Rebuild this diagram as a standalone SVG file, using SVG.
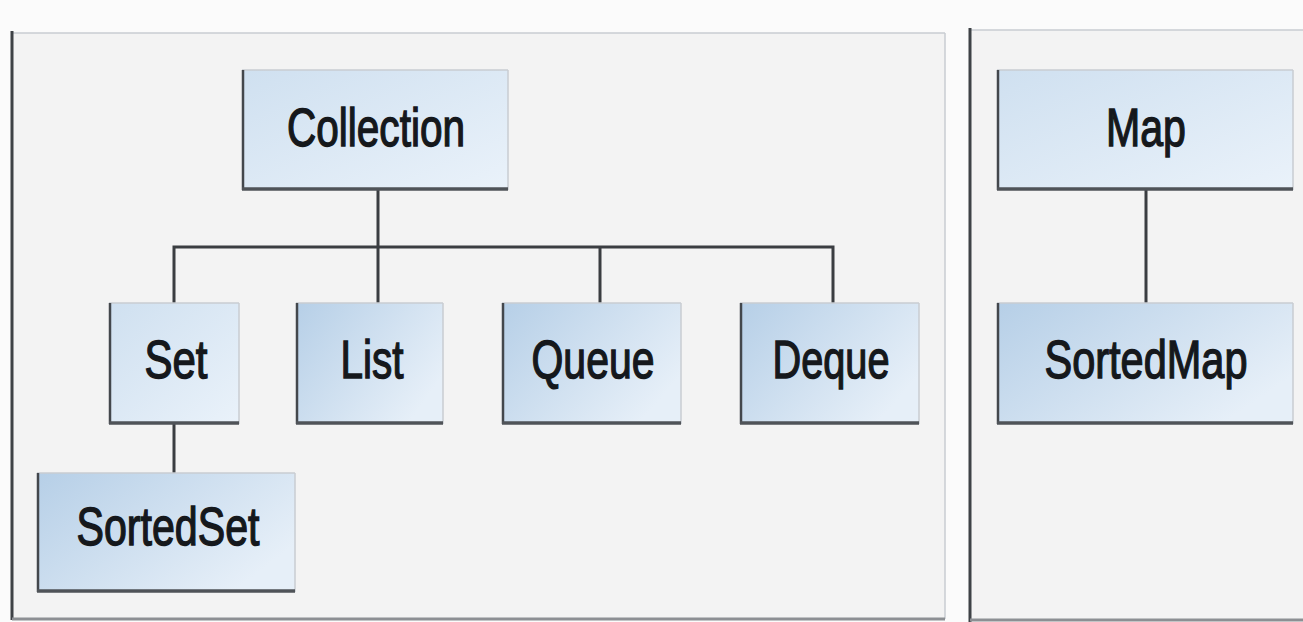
<svg xmlns="http://www.w3.org/2000/svg" width="1303" height="622" viewBox="0 0 1303 622">
<style>
.lbl{font-family:"Liberation Sans",Arial,sans-serif;font-size:53px;fill:#15181c;stroke:#15181c;stroke-width:1.4px;text-anchor:middle}
.edgeL{stroke:#43474c;stroke-width:2.5}
.edgeB{stroke:#4f5358;stroke-width:3.5}
.edgeT{stroke:#c9cdd2;stroke-width:1.5}
.conn{stroke:#3a3d41;stroke-width:3;fill:none}
</style>
<defs>
<linearGradient id="gLight" x1="0" y1="0" x2="1" y2="1">
<stop offset="0" stop-color="#cfe0f0"/>
<stop offset="1" stop-color="#eaf2fa"/>
</linearGradient>
<linearGradient id="gDark" x1="0" y1="0" x2="1" y2="0.6">
<stop offset="0" stop-color="#b6cfe7"/>
<stop offset="1" stop-color="#e6eff8"/>
</linearGradient>
</defs>
<rect x="0" y="0" width="1303" height="622" fill="#fbfbfb"/>
<g id="panel-left">
<rect x="12" y="33" width="933" height="586" fill="#f3f3f3"/>
<line x1="12" y1="33" x2="945" y2="33" class="edgeT"/>
<line x1="945" y1="33" x2="945" y2="619" class="edgeT"/>
<line x1="12" y1="31" x2="12" y2="620" stroke="#3e4246" stroke-width="3"/>
<line x1="12" y1="619" x2="945" y2="619" stroke="#8c8f93" stroke-width="3"/>
</g>
<g id="panel-right">
<rect x="970" y="30" width="340" height="590" fill="#f3f3f3"/>
<line x1="970" y1="30" x2="1303" y2="30" class="edgeT"/>
<line x1="970" y1="28" x2="970" y2="622" stroke="#3e4246" stroke-width="3"/>
<line x1="970" y1="620" x2="1303" y2="620" stroke="#8c8f93" stroke-width="3"/>
</g>
<g id="connectors">
<line class="conn" x1="378" y1="190" x2="378" y2="303"/>
<polyline class="conn" points="174,303 174,247 833,247 833,303"/>
<line class="conn" x1="600" y1="247" x2="600" y2="303"/>
<line class="conn" x1="174" y1="424" x2="174" y2="473"/>
<line class="conn" x1="1146" y1="190" x2="1146" y2="303"/>
</g>
<g id="node-collection">
<rect x="242" y="70" width="266" height="120" fill="url(#gLight)"/>
<line x1="242" y1="70" x2="508" y2="70" class="edgeT"/><line x1="508" y1="70" x2="508" y2="190" class="edgeT"/>
<line x1="243" y1="70" x2="243" y2="190" class="edgeL"/><line x1="242" y1="189" x2="508" y2="189" class="edgeB"/>
<text class="lbl" x="376" y="146" textLength="178" lengthAdjust="spacingAndGlyphs">Collection</text>
</g>
<g id="node-set">
<rect x="109" y="303" width="130" height="121" fill="url(#gLight)"/>
<line x1="109" y1="303" x2="239" y2="303" class="edgeT"/><line x1="239" y1="303" x2="239" y2="424" class="edgeT"/>
<line x1="110" y1="303" x2="110" y2="424" class="edgeL"/><line x1="109" y1="423" x2="239" y2="423" class="edgeB"/>
<text class="lbl" x="176" y="378" textLength="63" lengthAdjust="spacingAndGlyphs">Set</text>
</g>
<g id="node-list">
<rect x="296" y="303" width="147" height="121" fill="url(#gDark)"/>
<line x1="296" y1="303" x2="443" y2="303" class="edgeT"/><line x1="443" y1="303" x2="443" y2="424" class="edgeT"/>
<line x1="297" y1="303" x2="297" y2="424" class="edgeL"/><line x1="296" y1="423" x2="443" y2="423" class="edgeB"/>
<text class="lbl" x="372" y="378" textLength="63" lengthAdjust="spacingAndGlyphs">List</text>
</g>
<g id="node-queue">
<rect x="502" y="303" width="179" height="121" fill="url(#gDark)"/>
<line x1="502" y1="303" x2="681" y2="303" class="edgeT"/><line x1="681" y1="303" x2="681" y2="424" class="edgeT"/>
<line x1="503" y1="303" x2="503" y2="424" class="edgeL"/><line x1="502" y1="423" x2="681" y2="423" class="edgeB"/>
<text class="lbl" x="593" y="378" textLength="123" lengthAdjust="spacingAndGlyphs">Queue</text>
</g>
<g id="node-deque">
<rect x="740" y="303" width="179" height="121" fill="url(#gDark)"/>
<line x1="740" y1="303" x2="919" y2="303" class="edgeT"/><line x1="919" y1="303" x2="919" y2="424" class="edgeT"/>
<line x1="741" y1="303" x2="741" y2="424" class="edgeL"/><line x1="740" y1="423" x2="919" y2="423" class="edgeB"/>
<text class="lbl" x="831" y="378" textLength="117" lengthAdjust="spacingAndGlyphs">Deque</text>
</g>
<g id="node-sortedset">
<rect x="37" y="473" width="258" height="119" fill="url(#gDark)"/>
<line x1="37" y1="473" x2="295" y2="473" class="edgeT"/><line x1="295" y1="473" x2="295" y2="592" class="edgeT"/>
<line x1="38" y1="473" x2="38" y2="592" class="edgeL"/><line x1="37" y1="591" x2="295" y2="591" class="edgeB"/>
<text class="lbl" x="168" y="545" textLength="183" lengthAdjust="spacingAndGlyphs">SortedSet</text>
</g>
<g id="node-map">
<rect x="997" y="70" width="296" height="120" fill="url(#gLight)"/>
<line x1="997" y1="70" x2="1293" y2="70" class="edgeT"/><line x1="1293" y1="70" x2="1293" y2="190" class="edgeT"/>
<line x1="998" y1="70" x2="998" y2="190" class="edgeL"/><line x1="997" y1="189" x2="1293" y2="189" class="edgeB"/>
<text class="lbl" x="1146" y="146" textLength="80" lengthAdjust="spacingAndGlyphs">Map</text>
</g>
<g id="node-sortedmap">
<rect x="997" y="303" width="296" height="121" fill="url(#gDark)"/>
<line x1="997" y1="303" x2="1293" y2="303" class="edgeT"/><line x1="1293" y1="303" x2="1293" y2="424" class="edgeT"/>
<line x1="998" y1="303" x2="998" y2="424" class="edgeL"/><line x1="997" y1="423" x2="1293" y2="423" class="edgeB"/>
<text class="lbl" x="1146" y="378" textLength="203" lengthAdjust="spacingAndGlyphs">SortedMap</text>
</g>
</svg>
